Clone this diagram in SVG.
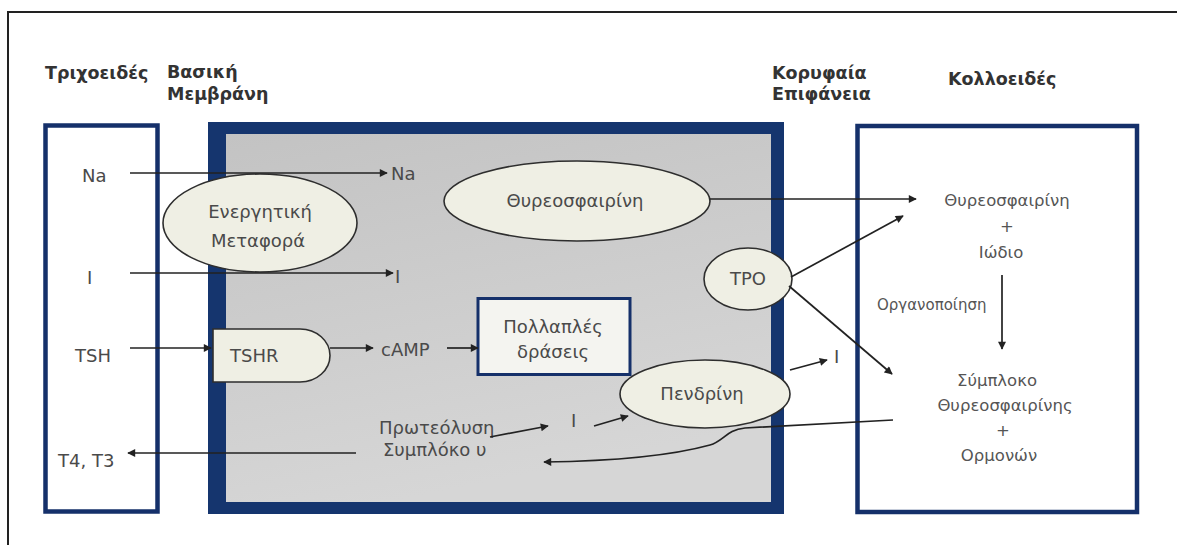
<svg xmlns="http://www.w3.org/2000/svg" width="1177" height="545" viewBox="0 0 1177 545">
<defs>
<style>
.t{font-family:"DejaVu Sans",sans-serif;font-weight:bold;font-size:17.5px;fill:#333}
.b{font-family:"DejaVu Sans",sans-serif;font-size:18px;fill:#4a4a4a}
.s{font-family:"DejaVu Sans",sans-serif;font-size:16.5px;fill:#555}
.m{text-anchor:middle}
.box{fill:#fff;stroke:#15306a;stroke-width:4.5}
.el{fill:#efefe4;stroke:#2e2e2e;stroke-width:1.6}
.ar{fill:none;stroke:#222;stroke-width:1.7;marker-end:url(#ah)}
</style>
<marker id="ah" viewBox="0 0 10 10" refX="9" refY="5" markerWidth="9" markerHeight="8" markerUnits="userSpaceOnUse" orient="auto">
<path d="M0,0 L10,5 L0,10 Z" fill="#222"/>
</marker>
<linearGradient id="gr" x1="0" y1="0" x2="0.3" y2="1">
<stop offset="0" stop-color="#c3c3c3"/>
<stop offset="1" stop-color="#d6d6d6"/>
</linearGradient>
</defs>
<rect width="1177" height="545" fill="#fff"/>
<path d="M8,545 V12 H1177" fill="none" stroke="#222" stroke-width="2"/>

<g id="titles">
<text class="t" x="45" y="79">Τριχοειδές</text>
<text class="t" x="167" y="78">Βασική</text>
<text class="t" x="167" y="100">Μεμβράνη</text>
<text class="t" x="772" y="79">Κορυφαία</text>
<text class="t" x="772" y="100">Επιφάνεια</text>
<text class="t" x="948" y="85">Κολλοειδές</text>
</g>

<g id="capillary">
<rect class="box" x="45.5" y="125.5" width="112" height="386"/>
<text class="b" x="82" y="182">Na</text>
<text class="b" x="87" y="284">I</text>
<text class="b" x="75" y="362">TSH</text>
<text class="b" x="58" y="467">T4, T3</text>
</g>

<g id="cell">
<rect x="208" y="122" width="576" height="392" fill="#15356e"/>
<rect x="226" y="134" width="545" height="368" fill="url(#gr)"/>
<text class="b" x="391" y="180">Na</text>
<text class="b" x="395" y="283">I</text>
<text class="b" x="381" y="356">cAMP</text>
<text class="b" x="571" y="427">I</text>
<text class="b" x="379" y="434">Πρωτεόλυση</text>
<text class="b" x="383" y="456">Συμπλόκο υ</text>
</g>

<g id="colloid">
<rect class="box" x="857.5" y="126" width="279.5" height="386"/>
<text class="s m" x="1007" y="206">Θυρεοσφαιρίνη</text>
<text class="s m" x="1007" y="232">+</text>
<text class="s m" x="1001" y="258">Ιώδιο</text>
<text class="s" x="877" y="310" style="font-size:15px">Οργανοποίηση</text>
<text class="s m" x="997" y="386">Σύμπλοκο</text>
<text class="s m" x="1005" y="411">Θυρεοσφαιρίνης</text>
<text class="s m" x="1003" y="436">+</text>
<text class="s m" x="999" y="461">Ορμονών</text>
<text class="b" x="834" y="363">I</text>
</g>

<g id="active-transport">
<ellipse class="el" cx="260" cy="223" rx="97" ry="49"/>
<text class="b m" x="260" y="218">Ενεργητική</text>
<text class="b m" x="258" y="247">Μεταφορά</text>
</g>

<g id="thyroglobulin">
<ellipse class="el" cx="577" cy="201" rx="133" ry="40"/>
<text class="b m" x="575" y="207">Θυρεοσφαιρίνη</text>
</g>

<g id="tshr">
<path class="el" d="M213,329 H300 A30,26.5 0 0 1 300,382 H213 Z"/>
<text class="b" x="230" y="362">TSHR</text>
</g>

<g id="multiple-actions">
<rect x="478" y="298.5" width="152" height="76" fill="#f4f4f0" stroke="#15306a" stroke-width="3"/>
<text class="b m" x="553" y="333">Πολλαπλές</text>
<text class="b m" x="553" y="358">δράσεις</text>
</g>

<g id="tpo">
<ellipse class="el" cx="748" cy="279" rx="44" ry="31"/>
<text class="b m" x="748" y="285">TPO</text>
</g>

<g id="pendrin">
<ellipse class="el" cx="705" cy="394" rx="85" ry="34"/>
<text class="b m" x="702" y="400">Πενδρίνη</text>
</g>

<g id="connectors">
<path class="ar" d="M130,173 H387"/>
<path class="ar" d="M130,273 H393"/>
<path class="ar" d="M130,348 H211"/>
<path class="ar" d="M330,348 H373"/>
<path class="ar" d="M447,348 H478"/>
<path class="ar" d="M710,199 H916"/>
<path class="ar" d="M791,277 L903,216"/>
<path class="ar" d="M789,286 L892,374"/>
<path class="ar" d="M1002,275 V349"/>
<path class="ar" d="M790,370 L827,360"/>
<path class="ar" d="M594,426 L628,416"/>
<path class="ar" d="M490,437 L548,426"/>
<path class="ar" d="M893,420 L745,428 C726,430 724,441 710,445 C670,456 620,461 544,462"/>
<path class="ar" d="M356,453 H128"/>
</g>
</svg>
